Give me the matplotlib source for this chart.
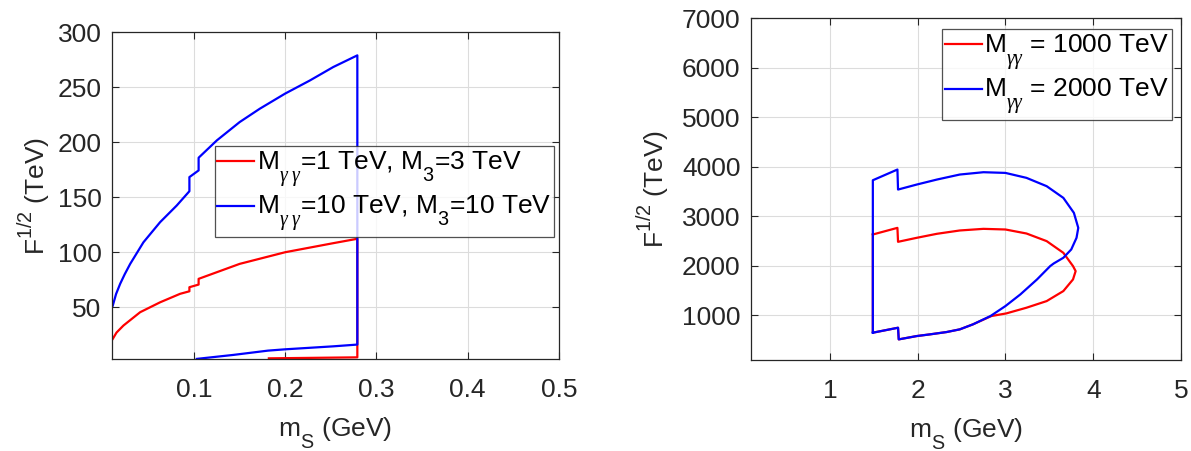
import numpy as np
import matplotlib
matplotlib.use("Agg")
import matplotlib.pyplot as plt
import matplotlib._mathtext as mt

plt.rcParams['font.family'] = ['Liberation Sans', 'DejaVu Sans']
plt.rcParams['mathtext.fontset'] = 'custom'
plt.rcParams['mathtext.rm'] = 'Liberation Sans'
plt.rcParams['mathtext.it'] = 'Liberation Serif:italic'
plt.rcParams['mathtext.sf'] = 'Liberation Sans'
# MATLAB-like sub/superscripts: further from the baseline
mt.SHRINK_FACTOR = 0.75
mt.FontConstantsBase.sub1 = 1.05
mt.FontConstantsBase.sup1 = 1.0

# ---- left panel ----
left_red_x = [0.0109, 0.015, 0.0226, 0.0409, 0.0628, 0.0847, 0.0949, 0.0949, 0.105, 0.105,
              0.15, 0.2, 0.2526, 0.279, 0.279, 0.182]
left_red_y = [21.3, 27, 33.4, 45.5, 54.5, 62.2, 64.5, 68.2, 70.6, 75.8,
              89.4, 100, 108.2, 112.2, 4.5, 3.6]
left_blue_x = [0.0109, 0.0145, 0.019, 0.024, 0.030, 0.0445, 0.0628, 0.081, 0.0949, 0.0949,
               0.105, 0.105, 0.1249, 0.150, 0.172, 0.1997, 0.227, 0.2526, 0.279,
               0.279, 0.2526, 0.2, 0.181, 0.143, 0.103]
left_blue_y = [51.5, 62, 71.3, 80, 89.4, 109, 127.3, 142.4, 155.4, 168.2,
               174.3, 185.8, 201.5, 218.2, 230.3, 244, 256, 268.2, 278.8,
               16.1, 14.5, 11.8, 10.6, 6.7, 3.1]
left_labels = [r'M$_{\gamma\ \gamma}$=1 TeV, M$_3$=3 TeV',
               r'M$_{\gamma\ \gamma}$=10 TeV, M$_3$=10 TeV']

# ---- right panel: closed regions ----
right_red_x = [1.49, 1.77, 1.777, 1.99, 2.22, 2.48, 2.75, 3.0, 3.24, 3.47, 3.66, 3.77, 3.80,
               3.77, 3.66, 3.47, 3.24, 3.01, 2.84, 2.63, 2.48, 2.33, 2.14, 1.99, 1.785,
               1.777, 1.49, 1.49]
right_red_y = [2633, 2767, 2485, 2566, 2647, 2714, 2747, 2734, 2653, 2499, 2263, 1995, 1894,
               1726, 1491, 1289, 1155, 1040, 987, 819, 718, 664, 617, 583, 516,
               751, 651, 2633]
right_blue_x = [1.49, 1.49, 1.77, 1.777, 1.99, 2.22, 2.48, 2.75, 3.0, 3.24, 3.47, 3.66, 3.78,
                3.83, 3.81, 3.75, 3.66, 3.55, 3.51, 3.36, 3.17, 3.0, 2.83, 2.63, 2.48,
                2.33, 2.14, 1.99, 1.785, 1.777, 1.49]
right_blue_y = [651, 3728, 3944, 3540, 3641, 3742, 3843, 3890, 3876, 3776, 3608, 3372, 3070,
                2767, 2566, 2331, 2163, 2048, 1995, 1726, 1423, 1188, 987, 819, 718,
                664, 617, 583, 516, 751, 651]
right_labels = [r'M$_{\gamma\gamma}$ = 1000 TeV', r'M$_{\gamma\gamma}$ = 2000 TeV']

txt = '#262626'
fs = 19
fig = plt.figure(figsize=(11.91, 4.51), dpi=100)
ax1 = fig.add_axes([0.094, 0.204, 0.3753, 0.725])
ax2 = fig.add_axes([0.6304, 0.2018, 0.3612, 0.758])


def style(ax, ypad):
    ax.grid(True, color='#dcdcdc', linewidth=0.8)
    ax.set_axisbelow(True)
    ax.tick_params(direction='in', top=True, right=True, labelsize=fs,
                   colors=txt, length=5, width=0.8)
    ax.tick_params(axis='x', pad=13.5)
    ax.tick_params(axis='y', pad=7.5)
    for s in ax.spines.values():
        s.set_color(txt)
        s.set_linewidth(0.9)
    ax.set_xlabel(r'm$_\mathrm{S}$ (GeV)', fontsize=fs, color=txt, labelpad=10)
    ax.set_ylabel(r'F$^{1/2}$ (TeV)', fontsize=fs, color=txt, labelpad=ypad)


def add_legend(ax, anchor):
    leg = ax.legend(loc='upper right', bbox_to_anchor=anchor, fontsize=fs,
                    handlelength=1.4, handletextpad=0.1, borderpad=0.1, labelspacing=0.15,
                    fancybox=False, edgecolor=txt, borderaxespad=0)
    leg.get_frame().set_linewidth(0.9)


ax1.plot(left_red_x, left_red_y, color='#ff0000', lw=1.6, label=left_labels[0])
ax1.plot(left_blue_x, left_blue_y, color='#0000ff', lw=1.6, label=left_labels[1])
ax1.set_xlim(0.01, 0.5)
ax1.set_ylim(3, 300)
ax1.set_xticks([0.1, 0.2, 0.3, 0.4, 0.5])
ax1.set_yticks([50, 100, 150, 200, 250, 300])
style(ax1, 4)
add_legend(ax1, (0.989, 0.651))

ax2.plot(right_red_x, right_red_y, color='#ff0000', lw=1.6, label=right_labels[0])
ax2.plot(right_blue_x, right_blue_y, color='#0000ff', lw=1.6, label=right_labels[1])
ax2.set_xlim(0.1, 5)
ax2.set_ylim(100, 7000)
ax2.set_xticks([1, 2, 3, 4, 5])
ax2.set_yticks([1000, 2000, 3000, 4000, 5000, 6000, 7000])
style(ax2, 8)
add_legend(ax2, (0.978, 0.968))

fig.savefig('out.png', dpi=100)
